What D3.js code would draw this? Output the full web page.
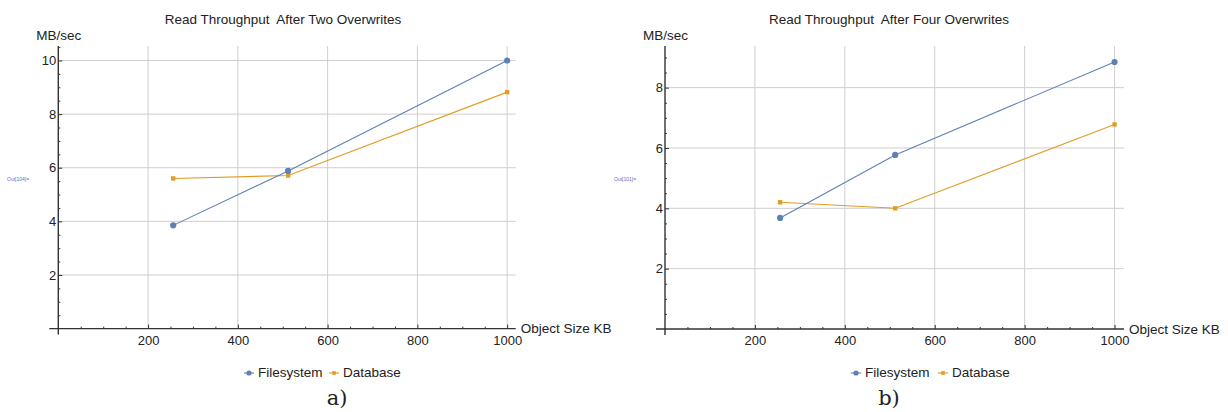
<!DOCTYPE html>
<html lang="en">
  <head>
    <meta charset="UTF-8" />
    <title>Read Throughput</title>
    <style>
      body { margin: 0; background: #fff; }
      svg text { font-family: "Liberation Sans", Arial, sans-serif; fill: #222; }
      .axis path, .axis line { stroke: #333; }
      .grid line { stroke: #cfcfcf; stroke-width: 1; }
    </style>
  </head>

  <body>
    <div id="chart"></div>

  <script src="https://d3js.org/d3.v7.min.js"></script>
    <script>

var w = 1228;
var h = 412;

// object sizes (KB) on the x axis
var sizesKB = [256, 512, 1000];

// panel a) after two overwrites
var fsTwo = [3.85, 5.88, 10.0];
var dbTwo = [5.6, 5.71, 8.82];

// panel b) after four overwrites
var fsFour = [3.68, 5.77, 8.85];
var dbFour = [4.2, 4.0, 6.78];

var xTicks = [200, 400, 600, 800, 1000];
var yTicksTwo = [2, 4, 6, 8, 10];
var yTicksFour = [2, 4, 6, 8];
var seriesNames = ["Filesystem", "Database"];

var blue = "#5e81b5";
var orange = "#e19c24";

var svg = d3.select("#chart").append("svg")
            .attr("width", w)
            .attr("height", h);

function drawPanel(p) {
  var x = d3.scaleLinear().domain([0, p.xMax]).range([p.left, p.right]);
  var y = d3.scaleLinear().domain([0, p.yMax]).range([p.bottom, p.top]);

  var g = svg.append("g");

  // grid
  var grid = g.append("g").attr("class", "grid");
  grid.selectAll("line.v")
      .data(p.xTicks)
      .enter()
      .append("line")
      .attr("x1", function(d) { return x(d); })
      .attr("x2", function(d) { return x(d); })
      .attr("y1", p.top)
      .attr("y2", p.bottom);
  grid.selectAll("line.h")
      .data(p.yTicks)
      .enter()
      .append("line")
      .attr("x1", p.left)
      .attr("x2", p.right)
      .attr("y1", function(d) { return y(d); })
      .attr("y2", function(d) { return y(d); });

  // minor ticks
  var xMinor = d3.range(50, p.xMax, 50).filter(function(d) { return d % 200 != 0; });
  var yMinor = d3.range(0.5, p.yMax, 0.5).filter(function(d) { return d % 2 != 0; });

  g.append("g")
   .attr("class", "axis")
   .attr("transform", "translate(0," + p.bottom + ")")
   .call(d3.axisBottom(x).tickValues(xMinor).tickFormat("").tickSizeInner(-2).tickSizeOuter(0))
   .select("path").remove();
  g.append("g")
   .attr("class", "axis")
   .attr("transform", "translate(" + p.left + ",0)")
   .call(d3.axisLeft(y).tickValues(yMinor).tickFormat("").tickSizeInner(-2).tickSizeOuter(0))
   .select("path").remove();

  // major axes
  var xAxis = g.append("g")
   .attr("class", "axis")
   .attr("transform", "translate(0," + p.bottom + ")")
   .call(d3.axisBottom(x).tickValues(p.xTicks).tickFormat(d3.format("d"))
           .tickSizeInner(-4).tickSizeOuter(0).tickPadding(5));
  xAxis.select("path").remove();
  xAxis.selectAll("text")
       .attr("font-family", "Liberation Sans, Arial, sans-serif")
       .style("font-size", "13px").attr("dy", "0.85em");

  var yAxis = g.append("g")
   .attr("class", "axis")
   .attr("transform", "translate(" + p.left + ",0)")
   .call(d3.axisLeft(y).tickValues(p.yTicks).tickSizeInner(-4).tickSizeOuter(0).tickPadding(2));
  yAxis.select("path").remove();
  yAxis.selectAll("text")
       .attr("font-family", "Liberation Sans, Arial, sans-serif")
       .style("font-size", "13px");

  // axis lines with small overhang past the origin
  g.append("line")
   .attr("x1", p.left - 9).attr("x2", p.right)
   .attr("y1", p.bottom).attr("y2", p.bottom)
   .attr("stroke", "#333").attr("stroke-width", 1.4);
  g.append("line")
   .attr("x1", p.left).attr("x2", p.left)
   .attr("y1", p.top).attr("y2", p.bottom + 6)
   .attr("stroke", "#333").attr("stroke-width", 1.4);

  // series
  var line = d3.line()
               .x(function(d, i) { return x(sizesKB[i]); })
               .y(function(d) { return y(d); });

  g.append("path").datum(p.db)
   .attr("d", line).attr("fill", "none").attr("stroke", orange).attr("stroke-width", 1.1);
  g.append("path").datum(p.fs)
   .attr("d", line).attr("fill", "none").attr("stroke", blue).attr("stroke-width", 1.1);

  g.selectAll("rect.db")
   .data(p.db)
   .enter()
   .append("rect")
   .attr("x", function(d, i) { return x(sizesKB[i]) - 2.2; })
   .attr("y", function(d) { return y(d) - 2.2; })
   .attr("width", 4.4)
   .attr("height", 4.4)
   .attr("fill", orange);

  g.selectAll("circle.fs")
   .data(p.fs)
   .enter()
   .append("circle")
   .attr("cx", function(d, i) { return x(sizesKB[i]); })
   .attr("cy", function(d) { return y(d); })
   .attr("r", 3.1)
   .attr("fill", blue);

  // titles
  g.append("text")
   .attr("x", p.titleX).attr("y", 24)
   .attr("text-anchor", "middle")
   .style("font-size", "13.5px")
   .style("white-space", "pre")
   .text(p.title);
  g.append("text")
   .attr("x", p.left - 22).attr("y", 40)
   .style("font-size", "13.5px")
   .text("MB/sec");
  g.append("text")
   .attr("x", p.right + 5).attr("y", p.bottom)
   .attr("dy", "0.35em")
   .style("font-size", "13.5px")
   .text("Object Size KB");

  // the little notebook output label
  g.append("text")
   .attr("x", p.outX).attr("y", 181)
   .style("font-size", "5px")
   .style("fill", "#6a6ac8")
   .text(p.outLabel);

  // legend
  var lg = g.append("g").attr("transform", "translate(" + p.legendX + ",372)");
  var colors = [blue, orange];
  var offs = [0, p.legendGap];
  seriesNames.forEach(function(name, i) {
    var item = lg.append("g").attr("transform", "translate(" + offs[i] + ",0)");
    item.append("line").attr("x1", -5).attr("x2", 5).attr("y1", 1).attr("y2", 1)
        .attr("stroke", colors[i]).attr("stroke-width", 1.1);
    if (i == 0) {
      item.append("circle").attr("cx", 0).attr("cy", 1).attr("r", 2.6).attr("fill", colors[i]);
    } else {
      item.append("rect").attr("x", -1.8).attr("y", -0.8).attr("width", 3.6).attr("height", 3.6).attr("fill", colors[i]);
    }
    item.append("text").attr("x", 9).attr("y", 0).attr("dy", "0.35em")
        .style("font-size", "13.5px").text(name);
  });

  // caption
  g.append("text")
   .attr("x", p.capX).attr("y", 405)
   .attr("text-anchor", "middle")
   .style("font-family", "'DejaVu Serif', 'Liberation Serif', serif")
   .style("font-size", "21px")
   .text(p.caption);
}

drawPanel({
  left: 58.3, right: 515.7, top: 46, bottom: 328.6,
  xMax: 1019, yMax: 10.54,
  xTicks: xTicks, yTicks: yTicksTwo,
  fs: fsTwo, db: dbTwo,
  title: "Read Throughput  After Two Overwrites", titleX: 283,
  outLabel: "Out[104]=", outX: 7,
  legendX: 249, legendGap: 85,
  caption: "a)", capX: 337
});

drawPanel({
  left: 665, right: 1124, top: 46, bottom: 329,
  xMax: 1021, yMax: 9.38,
  xTicks: xTicks, yTicks: yTicksFour,
  fs: fsFour, db: dbFour,
  title: "Read Throughput  After Four Overwrites", titleX: 889,
  outLabel: "Out[101]=", outX: 614,
  legendX: 856, legendGap: 87,
  caption: "b)", capX: 889
});

</script>

  </body>
</html>
